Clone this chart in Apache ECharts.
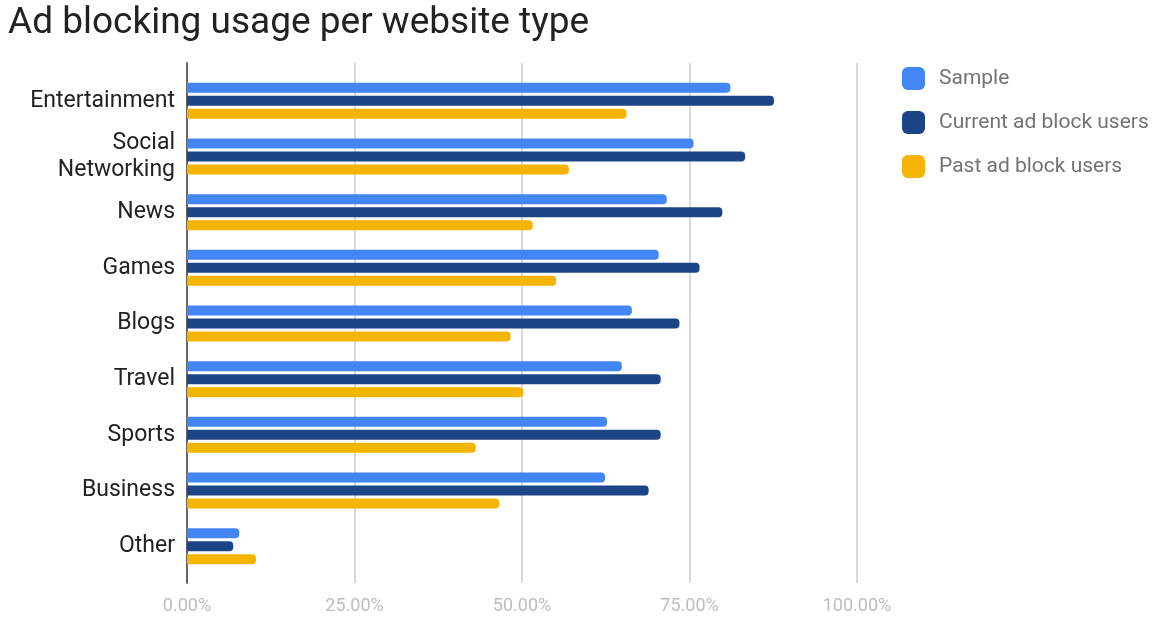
<!DOCTYPE html>
<html><head><meta charset="utf-8">
<script src="https://cdn.jsdelivr.net/npm/echarts@6/dist/echarts.min.js"></script>
<style>html,body{margin:0;padding:0;background:#fff}#c{width:1160px;height:619px}</style>
</head><body><div id="c"></div>
<script>
const categories = ['Entertainment', 'Social\nNetworking', 'News', 'Games', 'Blogs', 'Travel', 'Sports', 'Business', 'Other'];
const sample = [81.1, 75.6, 71.6, 70.4, 66.4, 64.9, 62.7, 62.4, 7.8];
const currentUsers = [87.6, 83.3, 79.9, 76.5, 73.5, 70.7, 70.7, 68.9, 6.9];
const pastUsers = [65.6, 57.0, 51.6, 55.1, 48.3, 50.2, 43.1, 46.6, 10.3];
const seriesNames = ['Sample', 'Current ad block users', 'Past ad block users'];
const colors = ['#4285f4', '#1c4587', '#f4b400'];
const xTicks = [0, 25, 50, 75, 100];

const chart = echarts.init(document.getElementById('c'), null, {renderer: 'canvas'});
const font = 'Roboto, "Noto Sans", sans-serif';
const mk = (name, data, i) => ({
  name, type: 'bar', data, xAxisIndex: 1, yAxisIndex: 1,
  barWidth: 10, barGap: '30%',
  itemStyle: {color: colors[i], borderRadius: [0, 4, 4, 0]}
});
chart.setOption({
  animation: false,
  textStyle: {fontFamily: font},
  title: {text: 'Ad blocking usage per website type', left: 3, top: 0,
    textStyle: {fontSize: 37, fontWeight: 'normal', color: '#222', fontFamily: font}},
  legend: {orient: 'vertical', left: 897, top: 62, itemWidth: 23, itemHeight: 23, itemGap: 21,
    icon: 'roundRect', data: seriesNames,
    textStyle: {fontSize: 21, color: '#737373', fontFamily: font, padding: [0, 0, 0, 9]}},
  grid: [
    {left: 187, right: 303, top: 63, bottom: 36},
    {left: 187, right: 303, top: 73, bottom: 45}
  ],
  xAxis: [
    {type: 'value', gridIndex: 0, min: 0, max: 100, interval: 25,
      axisLine: {show: false}, axisTick: {show: false},
      splitLine: {lineStyle: {color: '#d9d9d9', width: 2}},
      axisLabel: {color: '#bdbdbd', fontSize: 18, margin: 14, fontFamily: font,
        formatter: v => xTicks.includes(v) ? v.toFixed(2) + '%' : ''}},
    {type: 'value', gridIndex: 1, min: 0, max: 100, show: false}
  ],
  yAxis: [
    {type: 'value', gridIndex: 0, min: 0, max: 1, axisLine: {show: true, lineStyle: {color: '#666', width: 2}},
      axisLabel: {show: false}, axisTick: {show: false}, splitLine: {show: false}},
    {type: 'category', gridIndex: 1, data: categories, inverse: true,
      axisLine: {show: false}, axisTick: {show: false},
      axisLabel: {color: '#222', fontSize: 23, margin: 12, lineHeight: 27, padding: [4, 0, 0, 0], fontFamily: font}}
  ],
  series: [mk(seriesNames[0], sample, 0), mk(seriesNames[1], currentUsers, 1), mk(seriesNames[2], pastUsers, 2)]
});
</script></body></html>
